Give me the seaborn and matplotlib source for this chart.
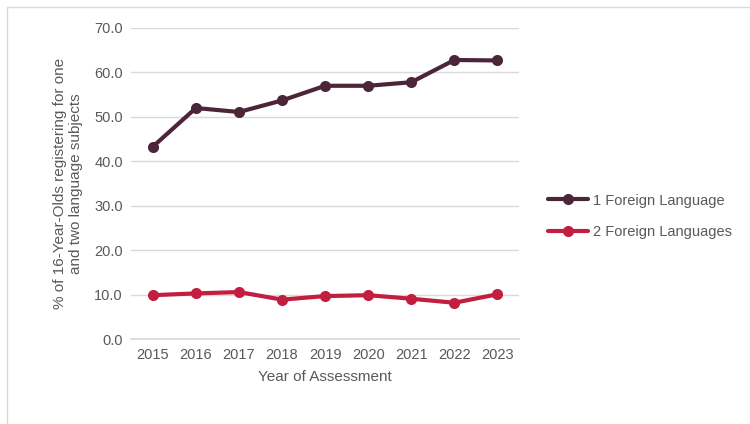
import pandas as pd
import matplotlib.pyplot as plt
from matplotlib.lines import Line2D
import seaborn as sns

# values
years = ["2015", "2016", "2017", "2018", "2019", "2020", "2021", "2022", "2023"]
one_lang = [43.3, 52.0, 51.1, 53.7, 57.0, 57.0, 57.8, 62.8, 62.7]
two_lang = [9.9, 10.3, 10.6, 8.9, 9.7, 9.9, 9.1, 8.2, 10.1]
series = ["1 Foreign Language", "2 Foreign Languages"]
colours = ["#4D2539", "#C21F40"]

df = pd.DataFrame({
    "Year": years * 2,
    "Value": one_lang + two_lang,
    "Series": [series[0]] * len(years) + [series[1]] * len(years),
})

sns.set_theme(style="white")
plt.rcParams["font.family"] = ["Liberation Sans", "DejaVu Sans"]
txt = "#595959"

fig = plt.figure(figsize=(7.5, 4.24), dpi=100)
ax = fig.add_axes([0.175, 0.20, 0.517, 0.734])

sns.lineplot(data=df, x="Year", y="Value", hue="Series", palette=colours,
             marker="o", markersize=8, markeredgewidth=0, linewidth=3,
             sort=False, ax=ax)

ax.set_ylim(0, 70)
ax.set_yticks(range(0, 71, 10))
ax.set_yticklabels([f"{v:.1f}" for v in range(0, 71, 10)])
ax.set_xlim(-0.5, len(years) - 0.5)
ax.yaxis.grid(True, color="#D9D9D9", linewidth=1)
ax.set_axisbelow(True)
for s in ["top", "right", "left"]:
    ax.spines[s].set_visible(False)
ax.spines["bottom"].set_color("#D9D9D9")
ax.tick_params(axis="both", length=0, labelsize=10.5, colors=txt, pad=6)

ax.set_xlabel("Year of Assessment", fontsize=11, color=txt, labelpad=6)
ax.set_ylabel("% of 16-Year-Olds registering for one\nand two language subjects",
              fontsize=11, color=txt, labelpad=8)

leg = ax.legend(loc="center left", bbox_to_anchor=(1.04, 0.395), frameon=False,
                fontsize=10.5, handlelength=2.8, labelspacing=1.2, handletextpad=0.3)
for t in leg.get_texts():
    t.set_color(txt)

# outer chart frame (only top and left edges fall inside the image)
fig.add_artist(Line2D([0.0093, 1.0], [0.9835, 0.9835], transform=fig.transFigure,
                      color="#D9D9D9", linewidth=1))
fig.add_artist(Line2D([0.0093, 0.0093], [0.0, 0.9835], transform=fig.transFigure,
                      color="#D9D9D9", linewidth=1))

fig.savefig("out.png", dpi=100)
